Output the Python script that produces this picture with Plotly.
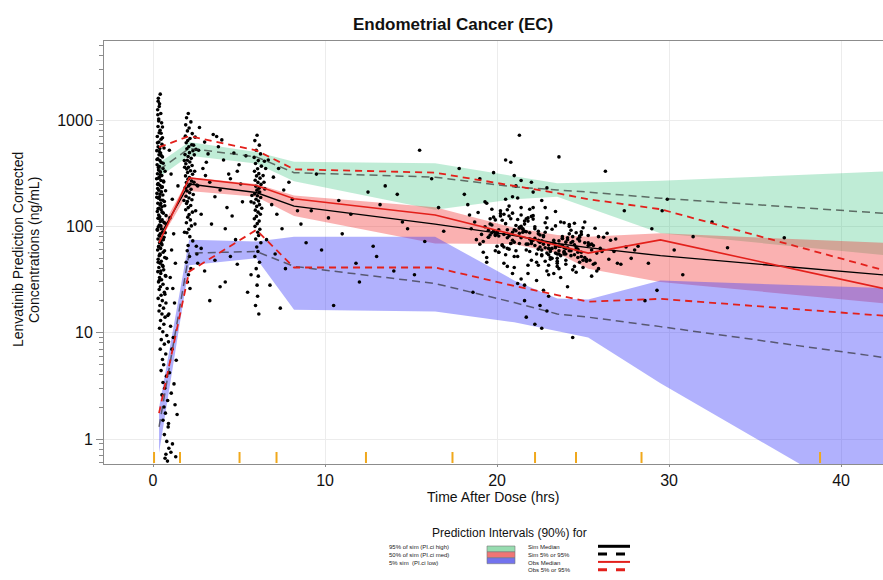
import plotly.graph_objects as go

# ---------------- VPC summary per time bin ----------------
bin_time = [0.35, 2.1, 6.0, 8.2, 16.4, 21.0, 23.5, 25.3, 29.5, 47.0]
bin_edges = [0.06, 1.57, 5.03, 7.18, 12.38, 17.41, 22.21, 24.59, 28.40, 38.78]

# 90% confidence bands of simulated percentiles
ci_p95_lo = [290, 460, 390, 265, 143, 180, 190, 150, 86, 45.7]
ci_p95_hi = [395, 620, 500, 405, 392, 294, 254, 258, 269, 351]
ci_p50_lo = [71, 215, 190, 125, 69, 68, 56, 40, 30, 16.1]
ci_p50_hi = [87, 290, 250, 195, 151, 97, 83, 80, 86, 65]
ci_p05_lo = [0.74, 43, 50, 16.4, 15.8, 12.5, 10.4, 9.0, 3.34, 0.077]
ci_p05_hi = [1.96, 75, 72, 80, 80, 31, 21, 20.5, 31, 24.8]

# simulated percentile medians
sim_median = [79, 250, 208, 155, 105, 82, 69, 63, 53, 30.2]
sim_p95 = [340, 540, 450, 320, 290, 235, 220, 210, 184, 118.6]
sim_p05 = [1.3, 56, 58, 42, 29, 19.2, 15, 14, 11.4, 4.63]

# observed percentiles
obs_median = [70, 285, 242, 182, 128, 83, 66, 56, 74.5, 18.0]
obs_p95 = [555, 705, 518, 344, 320, 240, 205, 180, 145, 24.4]
obs_p05 = [1.75, 37.5, 92.5, 41, 41, 27.5, 22.6, 19.6, 20.8, 12.7]

# ---------------- observed concentrations ----------------
a_time = [0.42, 0.31, 0.38, 0.27, 0.45, 0.33, 0.50, 0.29, 0.41, 0.36,
          0.25, 0.47, 0.34, 0.52, 0.30, 0.39, 0.22, 0.44, 0.35, 0.55,
          0.28, 0.40, 0.48, 0.24, 0.37, 0.58, 0.32, 0.43, 0.26, 0.51,
          0.36, 0.21, 0.46, 0.62, 0.30, 0.40, 0.54, 0.27, 0.34, 0.49,
          0.23, 0.57, 0.38, 0.31, 0.44, 0.66, 0.28, 0.41, 0.52, 0.35,
          0.47, 0.25, 0.60, 0.33, 0.39, 0.29, 0.53, 0.43, 0.70, 0.37,
          0.31, 0.48, 0.26, 0.56, 0.42, 0.35, 0.64, 0.29, 0.46, 0.38,
          0.52, 0.33, 0.44, 0.27, 0.59, 0.40, 0.36, 0.68, 0.30, 0.48,
          0.41, 0.55, 0.34, 0.62, 0.28, 0.45, 0.72, 0.38, 0.50, 0.32,
          0.58, 0.43, 0.36, 0.66, 0.47, 0.30, 0.54, 0.75, 0.40, 0.61,
          0.35, 0.52, 0.70, 0.44, 0.63, 0.38, 0.57, 0.80, 0.48, 0.66,
          0.42, 0.74, 0.55, 0.62, 0.47, 0.78, 0.58, 0.68, 0.52, 0.85,
          0.64, 0.72, 0.58, 0.88, 0.66, 0.80, 0.92, 0.75, 0.70, 0.84]
a_conc = [1750, 1600, 1420, 1250, 1150, 1020, 940, 870, 800, 760,
          700, 660, 620, 590, 560, 540, 515, 490, 470, 450,
          432, 415, 398, 380, 365, 350, 338, 325, 312, 300,
          290, 280, 270, 261, 252, 243, 235, 227, 219, 211,
          204, 197, 190, 184, 177, 171, 165, 159, 153, 148,
          143, 138, 133, 128, 123, 119, 115, 111, 107, 103,
          99, 95, 92, 88, 85, 82, 79, 76, 73, 70,
          67, 65, 62, 60, 57, 55, 53, 51, 49, 47,
          45, 43, 41, 39, 37.5, 36, 34.5, 33, 31.5, 30,
          28.5, 27, 25.5, 24, 22.5, 21, 20, 19, 18, 17,
          16, 15, 14, 13, 12, 11, 10.2, 9.4, 8.6, 7.8,
          7.0, 6.3, 5.6, 5.0, 4.4, 3.9, 3.4, 3.0, 2.6, 2.3,
          2.0, 1.75, 1.5, 1.3, 1.1, 0.95, 0.82, 0.72, 0.66, 0.62]

a2_time = [0.55, 0.26, 0.64, 0.37, 0.48, 0.23, 0.59, 0.31, 0.70, 0.43,
           0.34, 0.61, 0.27, 0.50, 0.73, 0.40, 0.22, 0.57, 0.45, 0.68,
           0.29, 0.53, 0.76, 0.36, 0.63, 0.46, 0.25, 0.71, 0.39, 0.60,
           0.49, 0.33, 0.67, 0.42, 0.78, 0.30, 0.58, 0.45, 0.74, 0.36,
           0.33, 0.28, 0.36, 0.30, 0.55, 0.47, 0.82, 0.69, 0.86, 0.90]
a2_conc = [680, 610, 545, 505, 462, 425, 392, 358, 330, 306,
           284, 266, 248, 232, 216, 201, 188, 176, 164, 156,
           146, 136, 126, 118, 109, 101, 94, 87, 81, 75,
           69, 64, 59, 54, 50, 46, 42, 38, 34, 31,
           980, 1120, 1340, 1500, 860, 750, 26, 23, 14.5, 8.2]

a3_time = [0.95, 1.05, 1.12, 0.98, 1.20, 1.08, 1.30, 1.00, 1.15, 1.25,
           0.92, 1.02, 1.18, 1.10, 1.35, 0.96, 1.22, 1.06, 1.28, 1.40,
           0.90, 1.13, 1.04, 1.32, 1.45]
a3_conc = [520, 310, 180, 120, 85, 60, 45, 33, 26, 19,
           15, 11.5, 9, 7, 5.5, 4.2, 3.3, 2.7, 2.1, 1.7,
           1.4, 0.9, 0.75, 0.68, 240]

b_time = [2.05, 1.95, 2.20, 1.90, 2.10, 2.00, 2.28, 1.88, 2.15, 2.02,
          1.93, 2.25, 2.08, 1.97, 2.32, 2.12, 1.86, 2.04, 2.22, 1.99,
          2.14, 1.91, 2.27, 2.06, 1.96, 2.18, 2.01, 2.30, 1.89, 2.11,
          2.03, 2.24, 1.94, 2.16, 2.07, 1.87, 2.21, 1.98, 2.13, 2.34,
          1.92, 2.09, 2.26, 2.00, 1.95, 2.19, 2.05, 1.90, 2.29, 2.10,
          2.02, 2.17, 1.94, 2.23, 2.08, 1.97, 2.14, 2.31, 2.04, 1.99,
          2.12, 1.93, 2.20, 2.06, 2.00, 2.15, 2.36, 2.40, 1.84, 2.38,
          2.45, 2.50, 1.82, 2.42, 2.55, 1.80, 2.48, 2.44, 1.83, 2.52]
b_conc = [1150, 1050, 960, 900, 840, 790, 745, 705, 670, 640,
          612, 585, 560, 536, 514, 493, 473, 454, 436, 419,
          403, 388, 373, 359, 346, 333, 321, 309, 298, 287,
          277, 267, 258, 249, 240, 231, 223, 215, 207, 199,
          192, 185, 178, 171, 164, 157, 150, 143, 136, 129,
          122, 115, 108, 101, 94, 87, 80, 73, 66, 59,
          52, 46, 40, 35, 30, 26, 580, 470, 360, 260,
          690, 530, 415, 330, 245, 175, 140, 105, 88, 65]

s1_time = [2.7, 3.0, 3.2, 3.5, 2.9, 3.8, 4.1, 4.4, 3.3, 4.7,
           5.0, 2.6, 3.6, 4.0, 4.5, 5.2, 2.8, 3.1, 3.9, 4.3,
           4.9, 5.4, 3.4, 2.65, 4.6, 5.1, 3.7, 4.2, 3.05, 4.8,
           2.55, 3.0, 3.6, 4.2, 4.9, 5.5, 2.8, 3.3, 5.7, 4.5,
           3.9, 2.6]
s1_conc = [850, 620, 480, 730, 350, 560, 420, 310, 260, 490,
           380, 240, 190, 650, 280, 170, 130, 400, 220, 150,
           330, 460, 105, 520, 125, 250, 700, 95, 300, 75,
           55, 38, 48, 30, 44, 24, 62, 20, 35, 52,
           27, 45]

c_time = [6.05, 5.92, 6.18, 6.00, 6.25, 5.88, 6.12, 5.96, 6.30, 6.08,
          5.90, 6.15, 6.02, 6.22, 5.94, 6.10, 6.28, 5.98, 6.16, 6.04,
          6.20, 5.91, 6.07, 6.26, 5.99, 6.13, 5.87, 6.19, 6.03, 6.32,
          5.95, 6.11, 6.24, 6.01, 5.89, 6.17, 6.06, 5.93, 6.21, 6.09,
          6.14, 5.97, 6.27, 6.03, 6.10, 5.92, 6.19, 6.00, 6.12, 6.05,
          6.08, 5.96, 6.15, 6.40, 6.45, 6.50, 5.75, 5.70, 6.55, 6.48]
c_conc = [720, 640, 580, 520, 480, 445, 415, 390, 368, 348,
          330, 313, 298, 284, 271, 259, 248, 238, 228, 219,
          210, 202, 194, 187, 180, 173, 166, 160, 154, 148,
          142, 136, 130, 124, 118, 112, 106, 100, 94, 88,
          82, 76, 70, 64, 58, 52, 46, 40, 34, 28,
          22, 18, 15, 300, 260, 225, 195, 170, 350, 410]

s3_time = [6.7, 7.0, 7.3, 7.6, 6.9, 7.2, 7.5, 7.9, 6.6, 8.1,
           8.4, 7.1, 7.7, 6.8, 8.6, 7.4, 8.9,
           9.5, 10.2, 11.0, 11.8, 12.5, 13.2, 14.0, 14.8, 15.5, 16.2,
           9.8, 10.8, 12.0, 13.5, 14.5, 15.8, 16.6, 10.5, 11.5, 13.0,
           14.2, 15.2, 16.9, 9.2, 12.8]
s3_conc = [420, 290, 350, 220, 160, 130, 95, 260, 75, 180,
           140, 55, 40, 28, 105, 17, 70,
           310, 120, 85, 45, 210, 160, 38, 95, 520, 280,
           60, 175, 30, 240, 110, 72, 150, 18, 130, 52,
           200, 35, 90, 140, 65]

d_time = [19.2, 21.5, 23.1, 20.4, 24.6, 22.0, 18.7, 25.3, 21.0, 23.8,
          20.9, 22.6, 19.7, 24.1, 21.8, 23.4, 26.0, 20.1, 22.9, 25.7,
          18.3, 21.3, 24.9, 22.3, 19.5, 23.6, 20.6, 26.5, 22.1, 24.3,
          21.7, 19.9, 23.0, 25.0, 20.3, 22.7, 24.4, 18.9, 21.2, 23.3,
          26.8, 20.7, 22.4, 24.7, 19.4, 21.9, 23.9, 25.5, 20.0, 22.8,
          24.0, 21.4, 19.0, 23.5, 22.2, 25.8, 20.5, 24.8, 21.6, 27.2,
          22.5, 18.5, 23.7, 20.8, 25.1, 21.1, 24.2, 19.6, 22.9, 26.2,
          20.2, 23.2, 21.9, 24.5, 19.3, 22.6, 25.6, 21.4, 23.8, 27.8,
          23.0, 20.6, 22.1, 24.9, 19.8, 21.7, 23.5, 26.4, 20.9, 22.4,
          24.2, 21.2, 19.1, 23.3, 25.2, 22.0, 20.4, 24.6, 21.8, 23.6,
          18.1, 22.8, 24.1, 20.7, 23.9, 21.5, 25.9, 22.3, 19.7, 24.4,
          21.0, 23.4, 20.1, 22.7, 25.4, 21.3, 24.0, 19.4, 23.1, 26.9,
          22.4, 20.3, 24.7, 21.6, 23.7, 19.9, 22.0, 25.0, 20.8, 23.0,
          27.5, 21.9, 24.3, 22.5, 20.0, 23.6, 25.7, 21.1, 22.9, 24.8,
          19.6, 22.2, 20.5, 23.8, 21.4, 24.5, 18.8, 22.6, 26.1, 23.2,
          21.8, 25.3, 20.2, 23.0, 24.1, 22.4, 19.2, 21.0, 28.2, 23.5,
          24.9, 20.9, 22.1, 19.5, 23.9, 21.6, 25.5, 22.8, 20.6, 24.2,
          23.1, 21.2, 26.6, 22.5, 20.1, 24.7, 18.4, 23.4, 21.7, 25.9,
          17.8, 19.0, 20.5, 28.0, 27.0, 21.3, 23.6, 26.3, 18.6, 22.2,
          24.4, 20.8, 22.9, 25.1, 21.4, 23.3, 19.8, 27.4, 22.6, 24.0,
          29.0, 29.6, 30.3, 31.4, 33.4, 36.7, 28.8, 29.9, 30.8, 32.5,
          29.3, 28.6]
d_conc = [72, 95, 58, 130, 64, 48, 110, 82, 41, 66,
          88, 53, 145, 75, 36, 101, 62, 57, 120, 45,
          160, 69, 84, 31, 92, 55, 78, 49, 210, 70,
          60, 115, 43, 97, 67, 80, 39, 135, 52, 74,
          58, 125, 90, 61, 46, 76, 108, 34, 85, 63,
          71, 150, 68, 47, 99, 56, 180, 73, 28, 44,
          83, 95, 65, 118, 51, 240, 59, 105, 38, 79,
          140, 62, 87, 42, 170, 54, 66, 128, 77, 50,
          35, 93, 74, 57, 122, 68, 45, 86, 190, 61,
          100, 29, 84, 70, 49, 260, 64, 37, 112, 59,
          200, 47, 78, 155, 63, 88, 40, 55, 103, 72,
          52, 138, 81, 25, 67, 98, 44, 165, 60, 76,
          73, 114, 57, 90, 33, 82, 124, 48, 69, 22,
          64, 145, 53, 71, 87, 40, 96, 59, 230, 46,
          118, 66, 54, 80, 32, 107, 75, 175, 58, 94,
          43, 70, 132, 62, 27, 85, 57, 300, 65, 50,
          89, 36, 117, 79, 55, 20, 68, 150, 42, 104,
          61, 185, 74, 18, 93, 51, 128, 65, 14, 80,
          350, 280, 420, 60, 45, 720, 450, 330, 24, 12,
          9, 400, 16, 110, 270, 36, 320, 140, 11, 55,
          95, 140, 60, 80, 63, 78, 45, 180, 35, 110,
          25, 20]

e_time = [20.3, 22.8, 24.5, 21.1, 23.6, 19.9, 25.2, 22.2, 20.7, 24.0,
          23.3, 21.6, 19.4, 24.8, 22.5, 20.9, 23.9, 21.3, 25.6, 22.0,
          24.3, 20.1, 22.7, 23.1, 21.8, 19.6, 24.6, 22.4, 20.5, 23.7,
          21.4, 25.0, 22.9, 20.0, 23.4, 24.2, 21.0, 22.1, 19.8, 25.4,
          22.6, 23.8, 20.6, 24.9, 21.7, 23.0, 19.3, 22.3, 24.4, 21.2,
          23.5, 20.4, 22.0, 25.8, 21.5, 24.1, 22.8, 20.8, 23.2, 19.7,
          24.7, 21.9, 23.6, 20.2, 22.4, 25.1, 21.1, 23.9, 22.7, 20.6,
          21.6, 24.5, 19.5, 23.0, 22.1, 20.9, 24.0, 21.3, 25.5, 22.5,
          23.4, 20.0, 22.9, 24.8, 21.8, 23.7, 20.4, 22.2, 24.3, 21.0,
          19.9, 23.1, 21.4, 25.3, 22.6, 20.7, 24.6, 23.5, 21.7, 22.0]
e_conc = [66, 88, 54, 102, 73, 59, 47, 95, 81, 62,
          70, 112, 51, 79, 64, 133, 58, 86, 44, 75,
          92, 57, 68, 49, 120, 83, 61, 74, 106, 53,
          78, 41, 97, 65, 56, 85, 71, 126, 90, 48,
          60, 77, 143, 52, 89, 67, 99, 46, 80, 116,
          55, 84, 72, 38, 94, 63, 108, 69, 50, 87,
          76, 58, 65, 125, 43, 70, 91, 57, 82, 62,
          105, 67, 79, 54, 150, 74, 48, 96, 60, 71,
          63, 89, 56, 81, 68, 110, 45, 77, 59, 93,
          84, 51, 100, 66, 73, 61, 87, 42, 118, 69]

obs_time = a_time + a2_time + a3_time + b_time + s1_time + c_time + s3_time + d_time + e_time
obs_conc = a_conc + a2_conc + a3_conc + b_conc + s1_conc + c_conc + s3_conc + d_conc + e_conc

x_ticks = [0, 10, 20, 30, 40]
y_ticks = [1, 10, 100, 1000]
y_tick_text = ["1", "10", "100", "1000"]
y_minor = [0.6, 0.7, 0.8, 0.9, 2, 3, 4, 5, 6, 7, 8, 9, 20, 30, 40, 50, 60, 70, 80, 90,
           200, 300, 400, 500, 600, 700, 800, 900, 2000, 3000, 4000, 5000]

FONT = "Liberation Sans, Arial, sans-serif"

# plot-area pixel frame, used to place the hand-built legend and labels
PL, PR, PT, PB = 104, 883, 41, 464


def px(x):
    return (x - PL) / (PR - PL)


def py(y):
    return (PB - y) / (PB - PT)


fig = go.Figure()


def add_band(lo, hi, color):
    fig.add_trace(go.Scatter(
        x=bin_time + bin_time[::-1], y=hi + lo[::-1],
        fill="toself", fillcolor=color, mode="lines",
        line=dict(width=0), hoverinfo="skip", showlegend=False))


add_band(ci_p95_lo, ci_p95_hi, "rgba(0,180,90,0.25)")
add_band(ci_p50_lo, ci_p50_hi, "rgba(240,40,40,0.36)")
add_band(ci_p05_lo, ci_p05_hi, "rgba(60,60,250,0.40)")

fig.add_trace(go.Scatter(
    x=obs_time, y=obs_conc, mode="markers",
    marker=dict(size=3.6, color="#000000"), showlegend=False))


def add_line(y, color, width, dash):
    fig.add_trace(go.Scatter(
        x=bin_time, y=y, mode="lines",
        line=dict(color=color, width=width, dash=dash), showlegend=False))


gray_dash = "rgba(40,40,40,0.65)"
add_line(sim_p95, gray_dash, 1.5, "8px,5px")
add_line(sim_p05, gray_dash, 1.5, "8px,5px")
add_line(sim_median, "#000000", 1.4, "solid")
add_line(obs_p95, "#e3201b", 1.8, "7px,5px")
add_line(obs_p05, "#e3201b", 1.8, "7px,5px")
add_line(obs_median, "#e3201b", 1.6, "solid")

shapes = []
# bin boundary rug along the bottom
for e in bin_edges:
    shapes.append(dict(type="line", xref="x", yref="paper", x0=e, x1=e,
                       y0=py(463), y1=py(452),
                       line=dict(color="#f0a81c", width=2)))

annotations = []
annotations.append(dict(text="<b>Endometrial Cancer (EC)</b>", xref="paper", yref="paper",
                        x=px(453), y=py(24), xanchor="center", yanchor="middle",
                        showarrow=False, font=dict(family=FONT, size=17, color="#111")))
annotations.append(dict(text="Time After Dose (hrs)", xref="paper", yref="paper",
                        x=px(493), y=py(497), xanchor="center", yanchor="middle",
                        showarrow=False, borderpad=0,
                        font=dict(family=FONT, size=14, color="#111")))
for txt, xx in [("Lenvatinib Prediction Corrected", 18), ("Concentrations (ng/mL)", 34)]:
    annotations.append(dict(text=txt, xref="paper", yref="paper", textangle=-90,
                            x=px(xx), y=py(250), xanchor="center", yanchor="middle",
                            showarrow=False, borderpad=0,
                            font=dict(family=FONT, size=14, color="#111")))

# legend block
LEG_FS = 6
row_h = LEG_FS * 1.3
annotations.append(dict(text="Prediction Intervals (90%) for", xref="paper", yref="paper",
                        x=px(509), y=py(533), xanchor="center", yanchor="middle",
                        showarrow=False, borderpad=0,
                        font=dict(family=FONT, size=12, color="#111")))
left_labels = ["95% of sim (PI.ci high)", "50% of sim (PI.ci med)", "5% sim  (PI.ci low)"]
box_colors = ["#97dcb0", "#f07575", "#7373ee"]
left_mid = 554.5
annotations.append(dict(text="<br>".join(left_labels), xref="paper", yref="paper",
                        x=px(388), y=py(left_mid), xanchor="left", yanchor="middle",
                        align="left", showarrow=False, borderpad=0,
                        font=dict(family=FONT, size=LEG_FS, color="#222")))
for i, col in enumerate(box_colors):
    ytop = 546 + i * 5.9
    shapes.append(dict(type="rect", xref="paper", yref="paper",
                       x0=px(487), x1=px(515), y0=py(ytop + 5.9), y1=py(ytop),
                       fillcolor=col, line=dict(color="#777", width=0.6)))
right_labels = ["Sim Median", "Sim 5% or 95%", "Obs Median", "Obs 5% or 95%"]
right_styles = [("#000000", 3, "solid"), ("#000000", 3, "dash"),
                ("#e3201b", 2, "solid"), ("#e3201b", 3, "dash")]
right_mid = 558
annotations.append(dict(text="<br>".join(right_labels), xref="paper", yref="paper",
                        x=px(527), y=py(right_mid), xanchor="left", yanchor="middle",
                        align="left", showarrow=False, borderpad=0,
                        font=dict(family=FONT, size=LEG_FS, color="#222")))
for i, (col, w, d) in enumerate(right_styles):
    yy = right_mid + (i - 1.5) * row_h
    shapes.append(dict(type="line", xref="paper", yref="paper",
                       x0=px(598), x1=px(630), y0=py(yy), y1=py(yy),
                       line=dict(color=col, width=w, dash=d)))

axis_col = "#8c8c8c"
fig.update_layout(
    width=883, height=580,
    margin=dict(l=PL, r=883 - PR, t=PT, b=580 - PB, pad=0),
    paper_bgcolor="white", plot_bgcolor="white",
    font=dict(family=FONT, color="#111"),
    showlegend=False,
    shapes=shapes, annotations=annotations,
    xaxis=dict(range=[-2.85, 42.44], tickvals=x_ticks, showgrid=True,
               gridcolor="#ececec", gridwidth=1, zeroline=False,
               showline=True, linecolor=axis_col, linewidth=1, mirror=True,
               ticks="outside", ticklen=2, tickcolor=axis_col,
               tickfont=dict(size=16, color="#111")),
    yaxis=dict(type="log", range=[-0.235, 3.743], tickvals=y_ticks, ticktext=y_tick_text,
               showgrid=True, gridcolor="#ececec", gridwidth=1, zeroline=False,
               showline=True, linecolor=axis_col, linewidth=1,
               ticks="outside", ticklen=7, tickcolor=axis_col,
               tickfont=dict(size=16, color="#111"),
               minor=dict(tickvals=y_minor, ticks="outside", ticklen=4,
                          tickcolor=axis_col, showgrid=False)),
)

fig.write_html("out.html")
